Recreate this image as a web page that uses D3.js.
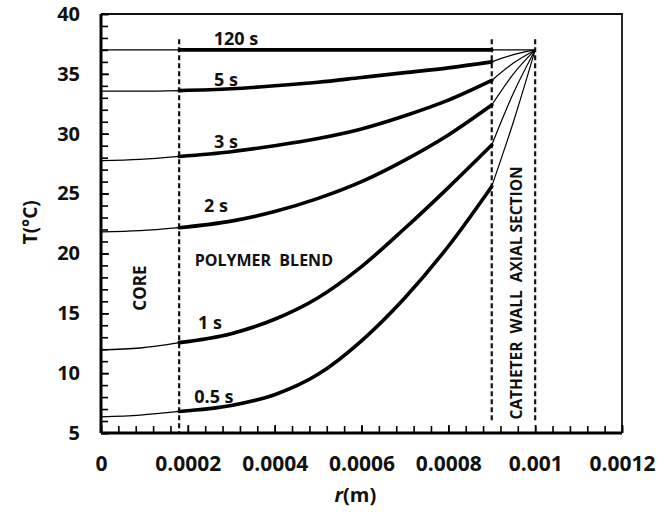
<!DOCTYPE html>
<html>
<head>
<meta charset="utf-8">
<script src="https://cdn.jsdelivr.net/npm/d3@7"></script>
<style>
    body { margin: 0; background: #fff; }
    svg.vis { display: block; font-family: "Open Sans", "Noto Sans", sans-serif; }
</style>
</head>
<body>
<svg class="vis"></svg>
<script>

// radial position (m) where temperatures were read
const radius = [0, 0.00009, 0.00018, 0.0003, 0.0004, 0.0005, 0.0006, 0.0007, 0.0008, 0.0009, 0.00095, 0.001];

const series_names = ["0.5 s", "1 s", "2 s", "3 s", "5 s", "120 s"];

const temp_05s  = [6.35, 6.5, 6.8, 7.3, 8.2, 9.9, 12.7, 16.3, 20.6, 25.6, 31.0, 37];
const temp_1s   = [11.95, 12.1, 12.55, 13.3, 14.5, 16.3, 18.9, 22.1, 25.5, 29.05, 33.4, 37];
const temp_2s   = [21.8, 21.9, 22.15, 22.7, 23.5, 24.6, 26.0, 27.8, 29.9, 32.4, 35.0, 37];
const temp_3s   = [27.75, 27.85, 28.1, 28.5, 29.0, 29.6, 30.4, 31.5, 32.8, 34.45, 35.9, 37];
const temp_5s   = [33.55, 33.55, 33.6, 33.75, 34.0, 34.3, 34.7, 35.1, 35.5, 36.0, 36.6, 37];
const temp_120s = [37, 37, 37, 37, 37, 37, 37, 37, 37, 37, 37, 37];

// core / polymer blend / catheter wall limits (m)
const boundaries = [0.00018, 0.0009, 0.001];

const x_ticks = [0, 0.0002, 0.0004, 0.0006, 0.0008, 0.001, 0.0012];
const x_tick_labels = ["0", "0.0002", "0.0004", "0.0006", "0.0008", "0.001", "0.0012"];
const y_ticks = [5, 10, 15, 20, 25, 30, 35, 40];

// text annotations, in data units
const notes = [
    { text: "120 s", r: 0.000311, t: 37.95 },
    { text: "5 s", r: 0.000288, t: 34.5 },
    { text: "3 s", r: 0.000288, t: 29.3 },
    { text: "2 s", r: 0.000265, t: 24.0 },
    { text: "POLYMER  BLEND", r: 0.000375, t: 19.45 },
    { text: "1 s", r: 0.000251, t: 14.2 },
    { text: "0.5 s", r: 0.00026, t: 8.0 }
];

const vis = {

    refs: {
        svg: "svg.vis"
    },

    sels: {
        svg: null
    },

    dims: {

        w: 672,
        h: 514,

        margins: {
            top: 14,
            left: 101,
            right: 50,
            bottom: 81
        }

    },

    scales: {
        x: null,
        y: null
    },

    f: {

        generates_refs: function() {

            vis.sels.svg = d3.select(vis.refs.svg)
                .attr("width", vis.dims.w)
                .attr("height", vis.dims.h);

        },

        set_scales: function() {

            const m = vis.dims.margins;

            vis.scales.x = d3.scaleLinear()
                .domain([0, 0.0012])
                .range([m.left, vis.dims.w - m.right]);

            vis.scales.y = d3.scaleLinear()
                .domain([5, 40])
                .range([vis.dims.h - m.bottom, m.top]);

        },

        series: function() {

            const temps = [temp_05s, temp_1s, temp_2s, temp_3s, temp_5s, temp_120s];

            return series_names.map((name, i) => ({
                name: name,
                points: radius.map((r, j) => ({ r: r, t: temps[i][j] }))
            }));

        }

    },

    draw: {

        frame: function() {

            const x = vis.scales.x;
            const y = vis.scales.y;

            // top and right borders
            vis.sels.svg.append("path")
                .attr("d", "M" + x(0) + "," + y(40) + "H" + x(0.0012) + "V" + y(5))
                .attr("fill", "none")
                .attr("stroke", "#111")
                .attr("stroke-width", 1.8);

        },

        axes: function() {

            const x = vis.scales.x;
            const y = vis.scales.y;

            // minor ticks first, then the labelled ones
            vis.sels.svg.append("g")
                .attr("transform", "translate(0," + y(5) + ")")
                .call(d3.axisBottom(x).tickValues(d3.range(0, 0.00121, 0.00004)).tickSize(-7).tickFormat(""))
                .call(g => g.select(".domain").remove())
                .selectAll("line").attr("stroke-width", 1.6);

            vis.sels.svg.append("g")
                .attr("transform", "translate(" + x(0) + ",0)")
                .call(d3.axisLeft(y).tickValues(d3.range(5, 40.1, 1)).tickSize(-7).tickFormat(""))
                .call(g => g.select(".domain").remove())
                .selectAll("line").attr("stroke-width", 1.6);

            const xa = vis.sels.svg.append("g")
                .attr("transform", "translate(0," + y(5) + ")")
                .call(d3.axisBottom(x).tickValues(x_ticks).tickSize(-8).tickPadding(23)
                    .tickFormat((d, i) => x_tick_labels[i]));

            xa.select(".domain").attr("stroke-width", 3).attr("d", "M" + x(0) + ",0H" + x(0.0012));
            xa.selectAll("line").attr("stroke-width", 1.6);
            xa.selectAll("text")
                .attr("font-size", 21)
                .attr("font-weight", 700)
                .attr("font-family", "Open Sans")
                .attr("fill", "#111");

            const ya = vis.sels.svg.append("g")
                .attr("transform", "translate(" + x(0) + ",0)")
                .call(d3.axisLeft(y).tickValues(y_ticks).tickSize(-8).tickPadding(21));

            ya.select(".domain").attr("stroke-width", 3).attr("d", "M0," + y(40) + "V" + y(5));
            ya.selectAll("line").attr("stroke-width", 1.6);
            ya.selectAll("text")
                .attr("font-size", 20)
                .attr("font-weight", 700)
                .attr("font-family", "Open Sans")
                .attr("fill", "#111");

            // axis titles
            vis.sels.svg.append("text")
                .attr("transform", "translate(30," + y(22.6) + ") rotate(-90)")
                .attr("dy", "0.35em")
                .attr("text-anchor", "middle")
                .attr("font-size", 19)
                .attr("font-weight", 700)
                .attr("fill", "#111")
                .text("T(°C)");

            const rt = vis.sels.svg.append("text")
                .attr("x", x(0.000586))
                .attr("y", 502)
                .attr("text-anchor", "middle")
                .attr("font-size", 20)
                .attr("font-weight", 700)
                .attr("fill", "#111");

            rt.append("tspan").attr("font-style", "italic").text("r");
            rt.append("tspan").text("(m)");

        },

        boundaries: function() {

            const x = vis.scales.x;
            const y = vis.scales.y;

            vis.sels.svg.append("g")
                .selectAll("line")
                .data(boundaries)
                .join("line")
                .attr("x1", d => x(d))
                .attr("x2", d => x(d))
                .attr("y1", y(37.9))
                .attr("y2", (d, i) => i === 0 ? y(5) : y(5.85))
                .attr("stroke", "#111")
                .attr("stroke-width", 2.2)
                .attr("stroke-dasharray", "5,3");

        },

        curves: function() {

            const x = vis.scales.x;
            const y = vis.scales.y;

            const line = d3.line()
                .x(d => x(d.r))
                .y(d => y(d.t))
                .curve(d3.curveMonotoneX);

            const data = vis.f.series();

            const g = vis.sels.svg.append("g")
                .attr("fill", "none")
                .attr("stroke", "#000")
                .attr("stroke-linejoin", "round")
                .attr("stroke-linecap", "round");

            // thin: core and catheter wall
            g.selectAll("path.core")
                .data(data)
                .join("path")
                .attr("class", "core")
                .attr("d", d => line(d.points.slice(0, 3)))
                .attr("stroke-width", 1.3);

            g.selectAll("path.wall")
                .data(data)
                .join("path")
                .attr("class", "wall")
                .attr("d", d => line(d.points.slice(9)))
                .attr("stroke-width", 1.2);

            // thick: polymer blend
            g.selectAll("path.blend")
                .data(data)
                .join("path")
                .attr("class", "blend")
                .attr("d", d => line(d.points.slice(2, 10)))
                .attr("stroke-width", 3.6);

        },

        notes: function() {

            const x = vis.scales.x;
            const y = vis.scales.y;

            vis.sels.svg.append("g")
                .selectAll("text")
                .data(notes)
                .join("text")
                .attr("x", d => x(d.r))
                .attr("y", d => y(d.t))
                .attr("dy", "0.35em")
                .attr("text-anchor", "middle")
                .attr("font-size", d => d.text.length > 6 ? 16 : 18)
                .attr("font-weight", 700)
                .attr("fill", "#111")
                .style("white-space", "pre")
                .text(d => d.text);

            // rotated region labels
            vis.sels.svg.append("text")
                .attr("transform", "translate(" + x(0.00009) + "," + y(17.1) + ") rotate(-90)")
                .attr("dy", "0.35em")
                .attr("text-anchor", "middle")
                .attr("font-size", 17)
                .attr("font-weight", 700)
                .attr("fill", "#111")
                .text("CORE");

            vis.sels.svg.append("text")
                .attr("transform", "translate(" + x(0.000956) + "," + y(16.7) + ") rotate(-90)")
                .attr("dy", "0.35em")
                .attr("text-anchor", "middle")
                .attr("font-size", 15.5)
                .attr("font-weight", 700)
                .attr("fill", "#111")
                .style("white-space", "pre")
                .text("CATHETER  WALL  AXIAL SECTION");

        }

    },

    control: {

        init: function() {

            vis.f.generates_refs();
            vis.f.set_scales();

            vis.draw.frame();
            vis.draw.boundaries();
            vis.draw.curves();
            vis.draw.axes();
            vis.draw.notes();

        }

    }

};

vis.control.init();
</script>
</body>
</html>
